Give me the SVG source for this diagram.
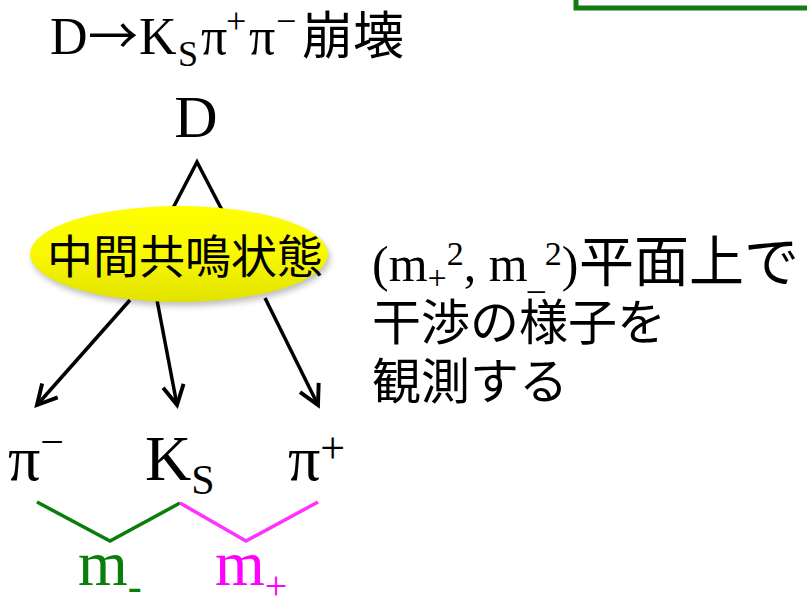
<svg xmlns="http://www.w3.org/2000/svg" width="807" height="606" viewBox="0 0 807 606">
<defs>
<style>
.ser{font-family:"Liberation Serif","Times New Roman",serif;fill:#000}
.cjk{font-family:"Noto Sans CJK JP","Noto Sans",sans-serif;fill:#000}
.ln{stroke:#000;stroke-width:3.5;fill:none}
</style>
<linearGradient id="yg" x1="0" y1="0" x2="0" y2="1">
<stop offset="0" stop-color="#ffff00"/>
<stop offset="0.5" stop-color="#f8f800"/>
<stop offset="1" stop-color="#e2e200"/>
</linearGradient>
<filter id="sh" x="-20%" y="-30%" width="140%" height="160%">
<feGaussianBlur stdDeviation="3"/>
</filter>
<marker id="ah" viewBox="0 0 20 20" refX="17" refY="10" markerWidth="26" markerHeight="26" markerUnits="userSpaceOnUse" orient="auto">
<path d="M2,2 L17,10 L2,18" fill="none" stroke="#000" stroke-width="3"/>
</marker>
</defs>
<rect width="807" height="606" fill="#fff"/>
<path d="M576,-5 V8 H812" fill="none" stroke="#147a14" stroke-width="5"/>

<g id="title">
<text class="ser" x="50" y="54" font-size="52">D<tspan class="cjk" x="88" font-size="50">→</tspan><tspan x="139">K</tspan><tspan x="178" font-size="36" dy="12">S</tspan><tspan x="201" dy="-12">π</tspan><tspan x="226" font-size="36" dy="-21">+</tspan><tspan x="249" dy="21">π</tspan><tspan x="276" font-size="36" dy="-21">−</tspan><tspan class="cjk" x="302" dy="21" font-size="51">崩壊</tspan></text>
</g>

<g id="connectors">
<path class="ln" d="M172,210 L197,162 L222,210"/>
<line class="ln" x1="130" y1="300" x2="37" y2="405" marker-end="url(#ah)"/>
<line class="ln" x1="157" y1="300" x2="177" y2="405" marker-end="url(#ah)"/>
<line class="ln" x1="265" y1="298" x2="318" y2="405" marker-end="url(#ah)"/>
<polyline points="37,502 110,541 180,503" fill="none" stroke="#0a7d0a" stroke-width="3.5"/>
<polyline points="180,503 246,541 318,502" fill="none" stroke="#ff33ff" stroke-width="3.5"/>
</g>

<g id="D">
<text class="ser" x="196" y="137" font-size="60" text-anchor="middle">D</text>
</g>

<g id="resonance">
<ellipse cx="181" cy="258" rx="149" ry="48" fill="#000" opacity="0.25" filter="url(#sh)"/>
<ellipse cx="179" cy="254" rx="149" ry="48" fill="url(#yg)"/>
<text class="cjk" x="185" y="273" font-size="46" text-anchor="middle">中間共鳴状態</text>
</g>

<g id="piminus">
<text class="ser" x="8" y="480" font-size="64">π<tspan font-size="42" dy="-24">−</tspan></text>
</g>
<g id="KS">
<text class="ser" x="145" y="480" font-size="64">K<tspan font-size="42" dy="14">S</tspan></text>
</g>
<g id="piplus">
<text class="ser" x="288" y="480" font-size="64">π<tspan font-size="44" dy="-17">+</tspan></text>
</g>

<g id="mminus">
<text class="ser" x="78" y="585" font-size="64" style="fill:#0a7d0a">m<tspan font-size="42" dy="15">-</tspan></text>
</g>
<g id="mplus">
<text class="ser" x="215" y="585" font-size="64" style="fill:#ff00ff">m<tspan font-size="40" dy="14">+</tspan></text>
</g>

<g id="note">
<text class="ser" x="372" y="281" font-size="50">(m<tspan font-size="34" dy="8">+</tspan><tspan font-size="34" dy="-24">2</tspan><tspan dy="16">, m</tspan><tspan font-size="34" dy="8">_</tspan><tspan font-size="34" dy="-24">2</tspan><tspan dy="16">)</tspan><tspan class="cjk" x="579" font-size="55">平面上で</tspan></text>
<text class="cjk" x="372" y="340" font-size="49">干渉の様子を</text>
<text class="cjk" x="372" y="399" font-size="49">観測する</text>
</g>
</svg>
